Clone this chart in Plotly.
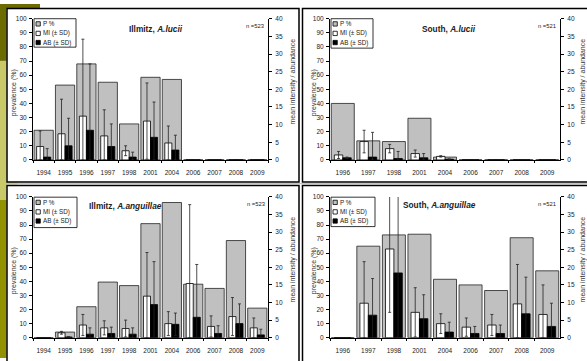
import plotly.graph_objects as go

W, H = 587, 361

# ---------------- data ----------------
years_illmitz = ["1994", "1995", "1996", "1997", "1998", "2001", "2004", "2006", "2007", "2008", "2009"]
years_south = ["1996", "1997", "1998", "2001", "2004", "2006", "2007", "2008", "2009"]

# Illmitz, A.lucii
p_il_luc = [21, 53, 68, 55, 25.5, 58.5, 57, 0, 0, 0, 0]
mi_il_luc = [3.8, 7.4, 12.4, 6.8, 2.6, 11.0, 4.8, 0, 0, 0, 0]
mi_sd_il_luc = [4.4, 9.8, 21.8, 7.4, 1.4, 10.8, 4.8, 0, 0, 0, 0]
ab_il_luc = [0.8, 4.0, 8.4, 3.8, 0.8, 6.4, 2.8, 0, 0, 0, 0]
ab_sd_il_luc = [2.4, 7.8, 18.8, 6.4, 1.4, 10.0, 4.2, 0, 0, 0, 0]

# South, A.lucii
p_so_luc = [40, 13.5, 13, 29.5, 2, 0, 0, 0, 0]
mi_so_luc = [1.4, 5.2, 3.2, 1.8, 1.0, 0, 0, 0, 0]
mi_sd_so_luc = [1.0, 3.2, 1.2, 1.0, 0.2, 0, 0, 0, 0]
ab_so_luc = [0.6, 0.8, 0.4, 0.6, 0.2, 0, 0, 0, 0]
ab_sd_so_luc = [0.2, 7.0, 2.0, 1.2, 0.1, 0, 0, 0, 0]

# Illmitz, A.anguillae
p_il_ang = [0, 4, 22, 39.5, 37, 81, 96, 38, 35, 69, 21]
mi_il_ang = [0, 1.4, 3.6, 2.8, 2.6, 11.8, 4.0, 15.4, 3.2, 6.0, 2.8]
mi_sd_il_ang = [0, 0.4, 3.0, 2.0, 2.4, 12.4, 3.4, 22.4, 3.0, 5.4, 2.8]
ab_il_ang = [0, 0.2, 1.0, 1.2, 1.0, 9.4, 3.8, 5.8, 1.2, 4.0, 0.8]
ab_sd_il_ang = [0, 0.1, 1.8, 1.8, 1.8, 12.2, 3.2, 15.0, 2.2, 5.6, 1.6]

# South, A.anguillae
p_so_ang = [0, 65, 73, 73.5, 41.5, 37.5, 33.5, 71, 47.5]
mi_so_ang = [0, 9.8, 25.2, 7.2, 4.0, 3.0, 3.6, 9.6, 6.6]
mi_sd_so_ang = [0, 11.8, 18.0, 7.0, 2.8, 2.6, 3.0, 11.2, 8.4]
ab_so_ang = [0, 6.4, 18.4, 5.4, 1.6, 1.2, 1.2, 6.8, 3.2]
ab_sd_so_ang = [0, 10.4, 25.0, 6.8, 2.8, 2.0, 2.4, 10.4, 6.6]

legend_labels = ["P %", "MI (\u00b1 SD)", "AB (\u00b1 SD)"]
left_title = "prevalence (%)"
right_title = "mean intensity / abundance"

panels = [
    dict(cats=years_illmitz, p=p_il_luc, mi=mi_il_luc, misd=mi_sd_il_luc, ab=ab_il_luc, absd=ab_sd_il_luc,
         site="Illmitz, ", sp="A.lucii", n="n =523",
         plot=(33, 15, 268, 159), border=(7, 4.5, 299, 181.5), leg=(34, 15, 76, 44),
         title=(156, 25), npos=(255, 22), lt=14, rt=293),
    dict(cats=years_south, p=p_so_luc, mi=mi_so_luc, misd=mi_sd_so_luc, ab=ab_so_luc, absd=ab_sd_so_luc,
         site="South, ", sp="A.lucii", n="n =521",
         plot=(330, 15, 560, 159), border=(302.5, 4.5, 600, 181.5), leg=(331, 15, 373, 45),
         title=(449, 25), npos=(547, 22), lt=314, rt=583),
    dict(cats=years_illmitz, p=p_il_ang, mi=mi_il_ang, misd=mi_sd_il_ang, ab=ab_il_ang, absd=ab_sd_il_ang,
         site="Illmitz, ", sp="A.anguillae", n="n =523",
         plot=(33, 196.7, 268, 340.3), border=(7, 185, 299, 370), leg=(34, 197, 77, 228),
         title=(125, 206.5), npos=(256, 204), lt=14, rt=293),
    dict(cats=years_south, p=p_so_ang, mi=mi_so_ang, misd=mi_sd_so_ang, ab=ab_so_ang, absd=ab_sd_so_ang,
         site="South, ", sp="A.anguillae", n="n =521",
         plot=(330, 196.7, 560, 340.3), border=(302.5, 185, 600, 370), leg=(331, 197, 375, 227),
         title=(439, 205), npos=(547, 204), lt=314, rt=583),
]

FONT = "Liberation Sans, Arial, sans-serif"
GRAY = "#c0c0c0"


def px(x):
    return x / W


def py(y):
    return 1 - y / H


fig = go.Figure()
layout = dict(
    width=W, height=H, margin=dict(l=0, r=0, t=0, b=0),
    paper_bgcolor="white", plot_bgcolor="rgba(0,0,0,0)",
    showlegend=False, barmode="overlay",
    font=dict(family=FONT, size=7, color="#222"),
)
shapes = []
annotations = []

# slide decoration (left strip)
deco = [
    (0, 0, 6.5, 58, "#6b6b00"),
    (0, 0, 40, 4, "#6b6b00"),
    (0, 58, 6.5, 200, "#c9c96a"),
    (0, 182, 17, 184, "#c9c96a"),
    (0, 200, 6.5, 361, "#929200"),
]
for x0, y0, x1, y1, c in deco:
    shapes.append(dict(type="rect", xref="paper", yref="paper", x0=px(x0), x1=px(x1), y0=py(y1), y1=py(y0),
                       fillcolor=c, line=dict(width=0), layer="below"))
shapes.append(dict(type="line", xref="paper", yref="paper", x0=px(17), x1=px(600), y0=py(183.2), y1=py(183.2),
                   line=dict(color="#b8b8b8", width=1), layer="below"))

for i, pn in enumerate(panels, start=1):
    xa = "x" if i == 1 else f"x{i}"
    ya_l = "y" if i == 1 else f"y{2 * i - 1}"
    ya_r = f"y{2 * i}"
    x0, y0, x1, y1 = pn["plot"]
    ncat = len(pn["cats"])

    fig.add_trace(go.Bar(x=pn["cats"], y=pn["p"], xaxis=xa, yaxis=ya_l, name=legend_labels[0],
                         width=0.9, offset=-0.45,
                         marker=dict(color=GRAY, line=dict(color="#222", width=0.8))))
    for vals, sds, col, off in ((pn["mi"], pn["misd"], "white", -0.33), (pn["ab"], pn["absd"], "black", 0.0)):
        minus = [min(s, v) for s, v in zip(sds, vals)]
        fig.add_trace(go.Bar(x=pn["cats"], y=vals, xaxis=xa, yaxis=ya_r,
                             width=0.33, offset=off, cliponaxis=False,
                             marker=dict(color=col, line=dict(color="black", width=0.8)),
                             error_y=dict(type="data", array=sds, arrayminus=minus, symmetric=False,
                                          color="#222", thickness=0.8, width=1.5)))

    xkey = "xaxis" if i == 1 else f"xaxis{i}"
    ylkey = "yaxis" if i == 1 else f"yaxis{2 * i - 1}"
    yrkey = f"yaxis{2 * i}"
    layout[xkey] = dict(domain=[px(x0), px(x1)], anchor=ya_l, type="category",
                        categoryorder="array", categoryarray=pn["cats"], range=[-0.5, ncat - 0.5],
                        showline=True, linecolor="black", linewidth=1, ticks="outside", ticklen=2,
                        tickson="boundaries", tickcolor="black", tickangle=0,
                        tickfont=dict(size=6.5, color="#222"), ticklabeloverflow="allow",
                        ticklabelstandoff=6, showgrid=False, zeroline=False, fixedrange=True)
    layout[ylkey] = dict(domain=[py(y1), py(y0)], anchor=xa, range=[0, 100], dtick=10,
                         showline=True, linecolor="black", linewidth=1, ticks="outside", ticklen=3,
                         tickcolor="black", tickfont=dict(size=6.5, color="#222"), ticklabelstandoff=1,
                         showgrid=False, zeroline=False, fixedrange=True)
    layout[yrkey] = dict(overlaying=ya_l, anchor=xa, side="right", range=[0, 40], dtick=5,
                         showline=True, linecolor="black", linewidth=1, ticks="outside", ticklen=3,
                         tickcolor="black", tickfont=dict(size=6.5, color="#222"), ticklabelstandoff=2,
                         showgrid=False, zeroline=False, fixedrange=True)

    # panel border
    bx0, by0, bx1, by1 = pn["border"]
    shapes.append(dict(type="rect", xref="paper", yref="paper", x0=px(bx0), x1=px(bx1), y0=py(by1), y1=py(by0),
                       line=dict(color="black", width=1.5), fillcolor="rgba(0,0,0,0)", layer="below"))

    # manual legend
    lx0, ly0, lx1, ly1 = pn["leg"]
    shapes.append(dict(type="rect", xref="paper", yref="paper", x0=px(lx0), x1=px(lx1), y0=py(ly1), y1=py(ly0),
                       line=dict(color="black", width=0.8), fillcolor="white", layer="above"))
    rows = [5.3, 15.0, 24.3]
    fills = [GRAY, "white", "black"]
    for r, f, lab in zip(rows, fills, legend_labels):
        cy = ly0 + r
        shapes.append(dict(type="rect", xref="paper", yref="paper", x0=px(lx0 + 2), x1=px(lx0 + 6.3),
                           y0=py(cy + 2.2), y1=py(cy - 2.2),
                           line=dict(color="black", width=0.8), fillcolor=f, layer="above"))
        annotations.append(dict(xref="paper", yref="paper", x=px(lx0 + 7.2), y=py(cy), text=lab,
                                showarrow=False, xanchor="left", yanchor="middle",
                                font=dict(size=6.3, color="#222")))

    # title and n
    tx, ty = pn["title"]
    annotations.append(dict(xref="paper", yref="paper", x=px(tx), y=py(ty),
                            text=f"<b>{pn['site']}<i>{pn['sp']}</i></b>", showarrow=False,
                            xanchor="center", yanchor="middle", font=dict(size=8.3, color="#222")))
    nx, ny = pn["npos"]
    annotations.append(dict(xref="paper", yref="paper", x=px(nx), y=py(ny), text=pn["n"], showarrow=False,
                            xanchor="center", yanchor="middle", font=dict(size=5.8, color="#222")))
    # axis titles
    cy = (y0 + y1) / 2
    annotations.append(dict(xref="paper", yref="paper", x=px(pn["lt"]), y=py(cy + 4), text=left_title,
                            showarrow=False, textangle=-90, xanchor="center", yanchor="middle",
                            font=dict(size=7, color="#333")))
    annotations.append(dict(xref="paper", yref="paper", x=px(pn["rt"]), y=py(cy - 8), text=right_title,
                            showarrow=False, textangle=-90, xanchor="center", yanchor="middle",
                            font=dict(size=7, color="#333")))

layout["shapes"] = shapes
layout["annotations"] = annotations
fig.update_layout(**layout)
fig.write_html("out.html", config={"displayModeBar": False},
               post_script="document.body.style.margin='0';document.body.style.padding='0';")
